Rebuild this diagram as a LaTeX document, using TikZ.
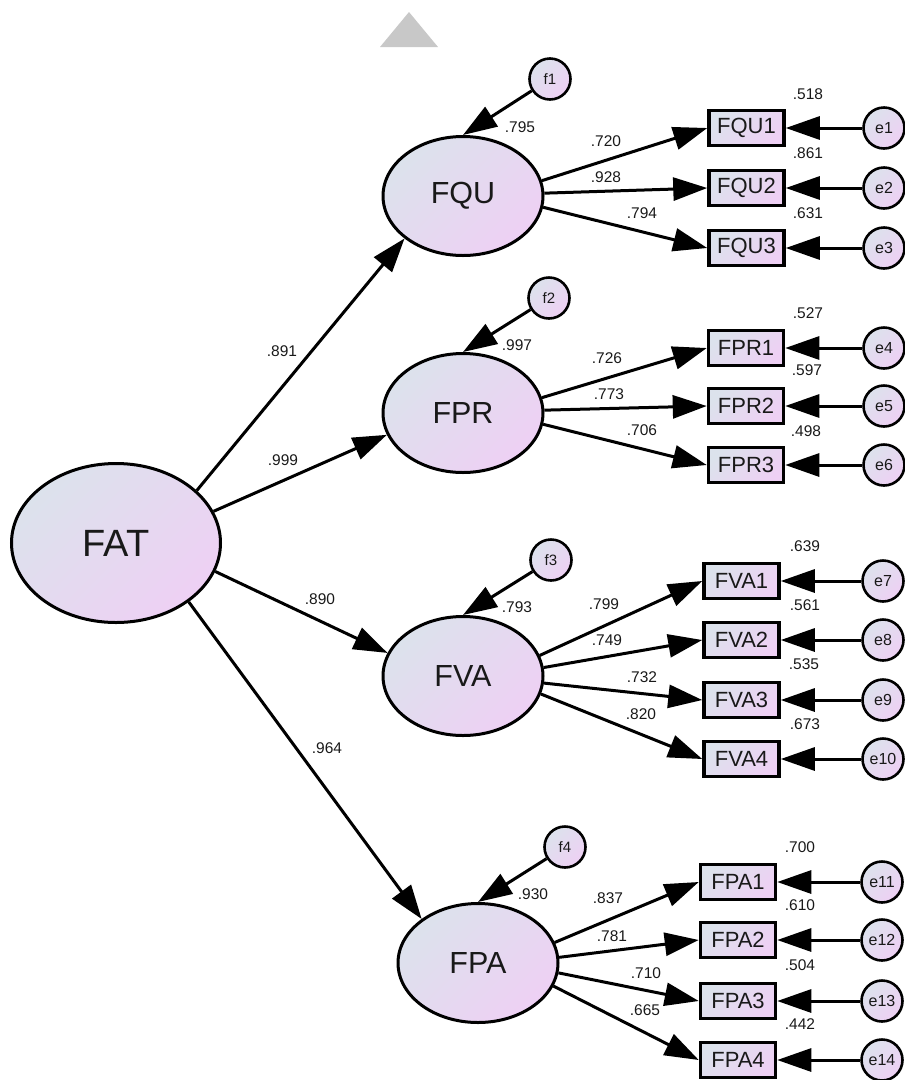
\documentclass[tikz,border=0pt]{standalone}
\usepackage{fontspec}
\setmainfont{Liberation Sans}
\usetikzlibrary{shapes.geometric,arrows.meta}
\definecolor{gA}{RGB}{220,226,236}
\definecolor{gB}{RGB}{238,208,244}
\definecolor{ink}{RGB}{25,25,25}
\definecolor{marker}{RGB}{200,200,200}

\begin{document}
\begin{tikzpicture}[x=1pt,y=-1pt,
  grad/.style={top color=gA,bottom color=gB,shading angle=45},
  latent/.style={ellipse,draw=black,line width=3pt,grad,inner sep=0pt,
    minimum width=160pt,minimum height=119pt,text=ink,
    font=\fontsize{30.5}{30.5}\selectfont},
  indicator/.style={rectangle,draw=black,line width=3.5pt,grad,inner sep=0pt,
    minimum width=75pt,minimum height=35pt,text=ink,
    font=\fontsize{22}{22}\selectfont},
  resid/.style={circle,draw=black,line width=2.6pt,grad,inner sep=0pt,
    minimum size=41pt,text=ink,font=\fontsize{16}{16}\selectfont},
  coef/.style={inner sep=0pt,text=ink,font=\fontsize{15.5}{15.5}\selectfont},
  link/.style={line width=3pt,-{Triangle[length=34pt,width=23pt]}}]

\useasboundingbox (0,0) rectangle (905,1080);

% marker at the top
\fill[marker] (409,12) -- (380,47) -- (438,47) -- cycle;

% second-order factor
\node[latent,minimum width=209pt,minimum height=159pt,
  font=\fontsize{38}{38}\selectfont] (FAT) at (116,543) {FAT};

% first-order factors
\node[latent] (FQU) at (463,196) {FQU};
\node[latent] (FPR) at (463,413) {FPR};
\node[latent] (FVA) at (463,676) {FVA};
\node[latent] (FPA) at (478,963) {FPA};

% disturbances
\node[resid,font=\fontsize{15}{15}\selectfont] (f1) at (550,79) {f1};
\node[resid,font=\fontsize{15}{15}\selectfont] (f2) at (549,298) {f2};
\node[resid,font=\fontsize{15}{15}\selectfont] (f3) at (551,560) {f3};
\node[resid,font=\fontsize{15}{15}\selectfont] (f4) at (565,847) {f4};

% indicators
\node[indicator] (FQU1) at (746.5,128) {FQU1};
\node[indicator] (FQU2) at (746.5,188) {FQU2};
\node[indicator] (FQU3) at (746.5,248) {FQU3};
\node[indicator] (FPR1) at (746,348) {FPR1};
\node[indicator] (FPR2) at (746,406) {FPR2};
\node[indicator] (FPR3) at (746,465) {FPR3};
\node[indicator] (FVA1) at (741.5,581) {FVA1};
\node[indicator] (FVA2) at (741.5,640) {FVA2};
\node[indicator] (FVA3) at (741.5,700) {FVA3};
\node[indicator] (FVA4) at (741.5,759) {FVA4};
\node[indicator] (FPA1) at (738,882) {FPA1};
\node[indicator] (FPA2) at (738,940) {FPA2};
\node[indicator] (FPA3) at (738,1001) {FPA3};
\node[indicator] (FPA4) at (738,1060) {FPA4};

% measurement errors
\node[resid] (e1) at (884,128) {e1};
\node[resid] (e2) at (884,188) {e2};
\node[resid] (e3) at (884,248) {e3};
\node[resid] (e4) at (884,348) {e4};
\node[resid] (e5) at (884,406) {e5};
\node[resid] (e6) at (884,465) {e6};
\node[resid] (e7) at (883,581) {e7};
\node[resid] (e8) at (883,640) {e8};
\node[resid] (e9) at (883,700) {e9};
\node[resid] (e10) at (883,759) {e10};
\node[resid] (e11) at (882,882) {e11};
\node[resid] (e12) at (882,940) {e12};
\node[resid] (e13) at (882,1001) {e13};
\node[resid] (e14) at (882,1060) {e14};

% structural paths
\draw[link] (FAT.33) -- (FQU.216);
\draw[link] (FAT.18) -- (FPR.196);
\draw[link] (FAT.-16) -- (FVA.163);
\draw[link] (FAT.-39) -- (FPA.142);

% disturbance paths
\draw[link] (f1) -- (FQU.north);
\draw[link] (f2) -- (FPR.north);
\draw[link] (f3) -- (FVA.north);
\draw[link] (f4) -- (FPA.north);

% loadings
\draw[link] (FQU.11) -- (FQU1.west);
\draw[link] (FQU.2) -- (FQU2.west);
\draw[link] (FQU.-8) -- (FQU3.west);
\draw[link] (FPR.11) -- (FPR1.west);
\draw[link] (FPR.2) -- (FPR2.west);
\draw[link] (FPR.-8) -- (FPR3.west);
\draw[link] (FVA.15) -- (FVA1.west);
\draw[link] (FVA.6) -- (FVA2.west);
\draw[link] (FVA.-5) -- (FVA3.west);
\draw[link] (FVA.-13) -- (FVA4.west);
\draw[link] (FPA.15) -- (FPA1.west);
\draw[link] (FPA.4) -- (FPA2.west);
\draw[link] (FPA.-7) -- (FPA3.west);
\draw[link] (FPA.-17) -- (FPA4.west);

% error paths
\foreach \e/\v in {e1/FQU1,e2/FQU2,e3/FQU3,e4/FPR1,e5/FPR2,e6/FPR3,
  e7/FVA1,e8/FVA2,e9/FVA3,e10/FVA4,e11/FPA1,e12/FPA2,e13/FPA3,e14/FPA4}
  \draw[link] (\e) -- (\v);

% standardized estimates
\node[coef] (c1) at (282,351) {.891};
\node[coef] (c2) at (283,460) {.999};
\node[coef] (c3) at (320,599) {.890};
\node[coef] (c4) at (327,748) {.964};
\node[coef] (r1) at (520,127) {.795};
\node[coef] (r2) at (517,345) {.997};
\node[coef] (r3) at (517,607) {.793};
\node[coef] (r4) at (533,894) {.930};
\node[coef] (l1) at (606,141) {.720};
\node[coef] (l2) at (606,177) {.928};
\node[coef] (l3) at (642,213) {.794};
\node[coef] (l4) at (607,358) {.726};
\node[coef] (l5) at (609,394) {.773};
\node[coef] (l6) at (642,430) {.706};
\node[coef] (l7) at (604,604) {.799};
\node[coef] (l8) at (607,640) {.749};
\node[coef] (l9) at (642,677) {.732};
\node[coef] (l10) at (641,714) {.820};
\node[coef] (l11) at (608,898) {.837};
\node[coef] (l12) at (612,936) {.781};
\node[coef] (l13) at (646,973) {.710};
\node[coef] (l14) at (645,1010) {.665};
\node[coef] (s1) at (808,94) {.518};
\node[coef] (s2) at (808,153) {.861};
\node[coef] (s3) at (808,213) {.631};
\node[coef] (s4) at (808,313) {.527};
\node[coef] (s5) at (807,370) {.597};
\node[coef] (s6) at (806,431) {.498};
\node[coef] (s7) at (805,546) {.639};
\node[coef] (s8) at (805,605) {.561};
\node[coef] (s9) at (804,664) {.535};
\node[coef] (s10) at (805,724) {.673};
\node[coef] (s11) at (800,847) {.700};
\node[coef] (s12) at (800,905) {.610};
\node[coef] (s13) at (800,965) {.504};
\node[coef] (s14) at (800,1024) {.442};
\end{tikzpicture}
\end{document}
